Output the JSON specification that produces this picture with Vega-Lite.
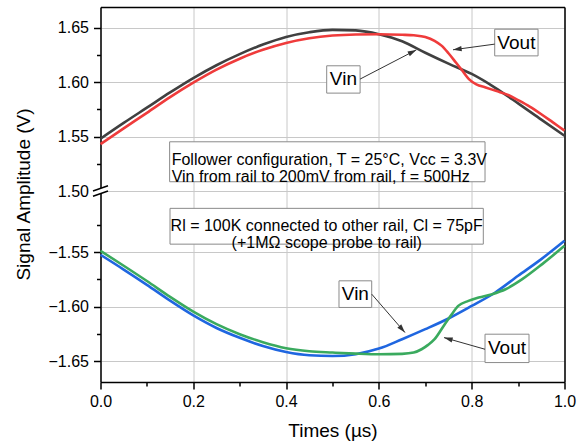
{
  "$schema": "https://vega.github.io/schema/vega-lite/v6.json",
  "padding": {"left": 13.5, "top": 7, "right": 5, "bottom": 5},
  "bounds": "flush",
  "spacing": 0,
  "resolve": {"scale": {"color": "independent"}},
  "config": {
    "font": "Liberation Sans",
    "view": {"stroke": null},
    "axis": {
      "labelFont": "Liberation Sans", "titleFont": "Liberation Sans",
      "labelFontSize": 16, "titleFontSize": 19, "titleFontWeight": "normal",
      "labelColor": "black", "titleColor": "black",
      "domainColor": "black", "tickColor": "black",
      "domainWidth": 1.5, "tickWidth": 1.5,
      "gridColor": "#c8c8c8", "gridWidth": 1, "labelFlush": false
    }
  },
  "datasets": {
    "top": [
      {"t": 0, "s": "Vin", "v": 1.548}, {"t": 0.05, "s": "Vin", "v": 1.5625}, {"t": 0.1, "s": "Vin", "v": 1.5765},
      {"t": 0.15, "s": "Vin", "v": 1.5905}, {"t": 0.2, "s": "Vin", "v": 1.6037}, {"t": 0.25, "s": "Vin", "v": 1.6155},
      {"t": 0.3, "s": "Vin", "v": 1.6257}, {"t": 0.35, "s": "Vin", "v": 1.6345}, {"t": 0.4, "s": "Vin", "v": 1.6415},
      {"t": 0.45, "s": "Vin", "v": 1.6458}, {"t": 0.5, "s": "Vin", "v": 1.648}, {"t": 0.55, "s": "Vin", "v": 1.6475},
      {"t": 0.6, "s": "Vin", "v": 1.644}, {"t": 0.65, "s": "Vin", "v": 1.6375}, {"t": 0.7, "s": "Vin", "v": 1.627},
      {"t": 0.75, "s": "Vin", "v": 1.617}, {"t": 0.8, "s": "Vin", "v": 1.6075}, {"t": 0.85, "s": "Vin", "v": 1.595},
      {"t": 0.9, "s": "Vin", "v": 1.5805}, {"t": 0.95, "s": "Vin", "v": 1.5655}, {"t": 1.0, "s": "Vin", "v": 1.5507},
      {"t": 0, "s": "Vout", "v": 1.5431}, {"t": 0.05, "s": "Vout", "v": 1.5575}, {"t": 0.1, "s": "Vout", "v": 1.5718},
      {"t": 0.15, "s": "Vout", "v": 1.5862}, {"t": 0.2, "s": "Vout", "v": 1.5995}, {"t": 0.25, "s": "Vout", "v": 1.6115},
      {"t": 0.3, "s": "Vout", "v": 1.6215}, {"t": 0.35, "s": "Vout", "v": 1.6297}, {"t": 0.4, "s": "Vout", "v": 1.636},
      {"t": 0.45, "s": "Vout", "v": 1.6403}, {"t": 0.5, "s": "Vout", "v": 1.6428}, {"t": 0.55, "s": "Vout", "v": 1.6438},
      {"t": 0.6, "s": "Vout", "v": 1.644}, {"t": 0.65, "s": "Vout", "v": 1.6435}, {"t": 0.675, "s": "Vout", "v": 1.643},
      {"t": 0.7, "s": "Vout", "v": 1.6415}, {"t": 0.72, "s": "Vout", "v": 1.638}, {"t": 0.735, "s": "Vout", "v": 1.6335},
      {"t": 0.75, "s": "Vout", "v": 1.6265}, {"t": 0.766, "s": "Vout", "v": 1.618}, {"t": 0.78, "s": "Vout", "v": 1.6104},
      {"t": 0.794, "s": "Vout", "v": 1.6028}, {"t": 0.81, "s": "Vout", "v": 1.598}, {"t": 0.83, "s": "Vout", "v": 1.5951},
      {"t": 0.852, "s": "Vout", "v": 1.592}, {"t": 0.88, "s": "Vout", "v": 1.588}, {"t": 0.9, "s": "Vout", "v": 1.5835},
      {"t": 0.925, "s": "Vout", "v": 1.5775}, {"t": 0.95, "s": "Vout", "v": 1.5705}, {"t": 0.975, "s": "Vout", "v": 1.563},
      {"t": 1.0, "s": "Vout", "v": 1.5555}
    ],
    "bot": [
      {"t": 0, "s": "Vin", "v": -1.5525}, {"t": 0.05, "s": "Vin", "v": -1.566}, {"t": 0.1, "s": "Vin", "v": -1.58},
      {"t": 0.15, "s": "Vin", "v": -1.5945}, {"t": 0.2, "s": "Vin", "v": -1.608}, {"t": 0.25, "s": "Vin", "v": -1.6195},
      {"t": 0.3, "s": "Vin", "v": -1.6285}, {"t": 0.35, "s": "Vin", "v": -1.636}, {"t": 0.4, "s": "Vin", "v": -1.6415},
      {"t": 0.45, "s": "Vin", "v": -1.6445}, {"t": 0.5, "s": "Vin", "v": -1.6452}, {"t": 0.55, "s": "Vin", "v": -1.6435},
      {"t": 0.6, "s": "Vin", "v": -1.6384}, {"t": 0.65, "s": "Vin", "v": -1.6298}, {"t": 0.7, "s": "Vin", "v": -1.6206},
      {"t": 0.75, "s": "Vin", "v": -1.6108}, {"t": 0.8, "s": "Vin", "v": -1.5993}, {"t": 0.85, "s": "Vin", "v": -1.5872},
      {"t": 0.9, "s": "Vin", "v": -1.5717}, {"t": 0.95, "s": "Vin", "v": -1.5564}, {"t": 1.0, "s": "Vin", "v": -1.5396},
      {"t": 0, "s": "Vout", "v": -1.5488}, {"t": 0.05, "s": "Vout", "v": -1.5625}, {"t": 0.1, "s": "Vout", "v": -1.5765},
      {"t": 0.15, "s": "Vout", "v": -1.591}, {"t": 0.2, "s": "Vout", "v": -1.6045}, {"t": 0.25, "s": "Vout", "v": -1.616},
      {"t": 0.3, "s": "Vout", "v": -1.6252}, {"t": 0.35, "s": "Vout", "v": -1.6325}, {"t": 0.4, "s": "Vout", "v": -1.638},
      {"t": 0.45, "s": "Vout", "v": -1.6408}, {"t": 0.5, "s": "Vout", "v": -1.642}, {"t": 0.55, "s": "Vout", "v": -1.643},
      {"t": 0.6, "s": "Vout", "v": -1.6436}, {"t": 0.65, "s": "Vout", "v": -1.6432}, {"t": 0.675, "s": "Vout", "v": -1.642},
      {"t": 0.692, "s": "Vout", "v": -1.639}, {"t": 0.706, "s": "Vout", "v": -1.635}, {"t": 0.72, "s": "Vout", "v": -1.6298},
      {"t": 0.742, "s": "Vout", "v": -1.616}, {"t": 0.757, "s": "Vout", "v": -1.6069}, {"t": 0.771, "s": "Vout", "v": -1.5993},
      {"t": 0.793, "s": "Vout", "v": -1.5947}, {"t": 0.815, "s": "Vout", "v": -1.5916}, {"t": 0.844, "s": "Vout", "v": -1.5885},
      {"t": 0.873, "s": "Vout", "v": -1.584}, {"t": 0.909, "s": "Vout", "v": -1.5748}, {"t": 0.952, "s": "Vout", "v": -1.561},
      {"t": 1.0, "s": "Vout", "v": -1.5442}
    ],
    "topBoxes": [
      {"x1": 0.8496, "x2": 0.943, "y1": 1.6241, "y2": 1.6486},
      {"x1": 0.4875, "x2": 0.5595, "y1": 1.5899, "y2": 1.615},
      {"x1": 0.149, "x2": 0.8287, "y1": 1.5085, "y2": 1.5452}
    ],
    "botBoxes": [
      {"x1": 0.514, "x2": 0.5845, "y1": -1.6007, "y2": -1.5763},
      {"x1": 0.8287, "x2": 0.9235, "y1": -1.6512, "y2": -1.6252},
      {"x1": 0.1498, "x2": 0.825, "y1": -1.5427, "y2": -1.5099}
    ],
    "topLabels": [
      {"x": 0.8963, "y": 1.6363, "text": "Vout"},
      {"x": 0.5235, "y": 1.6025, "text": "Vin"}
    ],
    "botLabels": [
      {"x": 0.5493, "y": -1.5885, "text": "Vin"},
      {"x": 0.8761, "y": -1.6382, "text": "Vout"}
    ],
    "topInfo": [
      {"x": 0.1534, "y": 1.5285, "text": "Follower configuration, T = 25°C, Vcc = 3.3V\nVin from rail to 200mV from rail, f = 500Hz"}
    ],
    "botInfo": [
      {"x": 0.4875, "y": -1.5259, "text": "Rl = 100K connected to other rail, Cl = 75pF\n(+1MΩ scope probe to rail)"}
    ],
    "topArrows": [
      {"x1": 0.8496, "y1": 1.6349, "x2": 0.7597, "y2": 1.6297, "a": 172},
      {"x1": 0.5595, "y1": 1.6028, "x2": 0.6806, "y2": 1.6296, "a": 332.5}
    ],
    "botArrows": [
      {"x1": 0.5845, "y1": -1.5885, "x2": 0.6562, "y2": -1.6237, "a": 49},
      {"x1": 0.8287, "y1": -1.639, "x2": 0.7403, "y2": -1.6283, "a": 196}
    ],
    "brk": [{"t": 0, "v": -1.494}]
  },
  "vconcat": [
    {
      "width": 464,
      "height": 184,
      "layer": [
        {
          "data": {"name": "top"},
          "mark": {"type": "line", "strokeWidth": 2.6, "interpolate": "monotone"},
          "encoding": {
            "x": {"field": "t", "type": "quantitative", "scale": {"domain": [0, 1], "nice": false},
              "axis": {"orient": "top", "values": [0, 0.2, 0.4, 0.6, 0.8, 1], "labels": false, "ticks": false, "grid": true, "domain": true, "title": null}},
            "y": {"field": "v", "type": "quantitative", "scale": {"domain": [1.5, 1.669], "nice": false, "zero": false},
              "axis": {"orient": "left", "values": [1.5, 1.525, 1.55, 1.575, 1.6, 1.625, 1.65],
                "labelExpr": "round(datum.value*40)%2!=0 ? '' : format(datum.value, '.2f')",
                "tickSize": {"condition": {"test": "round(datum.value*40)%2!=0", "value": 4}, "value": 7},
                "gridOpacity": {"condition": {"test": "round(datum.value*40)%2!=0", "value": 0}, "value": 1},
                "grid": true, "labelPadding": 5, "title": null}},
            "color": {"field": "s", "type": "nominal", "scale": {"domain": ["Vin", "Vout"], "range": ["#404040", "#ef3b3b"]}, "legend": null}
          }
        },
        {
          "data": {"name": "topBoxes"},
          "mark": {"type": "rect", "fill": "white", "stroke": "#8a8a8a", "strokeWidth": 1},
          "encoding": {
            "x": {"field": "x1", "type": "quantitative", "scale": {"domain": [0, 1], "nice": false}},
            "x2": {"field": "x2"},
            "y": {"field": "y1", "type": "quantitative", "scale": {"domain": [1.5, 1.669], "nice": false, "zero": false},
              "axis": {"orient": "right", "labels": false, "ticks": false, "grid": false, "domain": true, "title": null}},
            "y2": {"field": "y2"}
          }
        },
        {
          "data": {"name": "topArrows"},
          "mark": {"type": "rule", "color": "#333333", "strokeWidth": 1},
          "encoding": {
            "x": {"field": "x1", "type": "quantitative", "scale": {"domain": [0, 1], "nice": false}},
            "x2": {"field": "x2"},
            "y": {"field": "y1", "type": "quantitative", "scale": {"domain": [1.5, 1.669], "nice": false, "zero": false}, "axis": null},
            "y2": {"field": "y2"}
          }
        },
        {
          "data": {"name": "topArrows"},
          "mark": {"type": "point", "shape": "M0,0L-1,-0.3L-1,0.3Z", "filled": true, "color": "#333333", "opacity": 1, "size": 300},
          "encoding": {
            "x": {"field": "x2", "type": "quantitative", "scale": {"domain": [0, 1], "nice": false}},
            "y": {"field": "y2", "type": "quantitative", "scale": {"domain": [1.5, 1.669], "nice": false, "zero": false}, "axis": null},
            "angle": {"field": "a", "type": "quantitative", "scale": null}
          }
        },
        {
          "data": {"name": "topLabels"},
          "mark": {"type": "text", "fontSize": 19, "align": "center", "baseline": "middle", "color": "black"},
          "encoding": {
            "x": {"field": "x", "type": "quantitative", "scale": {"domain": [0, 1], "nice": false}},
            "y": {"field": "y", "type": "quantitative", "scale": {"domain": [1.5, 1.669], "nice": false, "zero": false}, "axis": null},
            "text": {"field": "text"}
          }
        },
        {
          "data": {"name": "topInfo"},
          "mark": {"type": "text", "fontSize": 16, "align": "left", "baseline": "middle", "lineBreak": "\n", "lineHeight": 17.5, "color": "black"},
          "encoding": {
            "x": {"field": "x", "type": "quantitative", "scale": {"domain": [0, 1], "nice": false}},
            "y": {"field": "y", "type": "quantitative", "scale": {"domain": [1.5, 1.669], "nice": false, "zero": false}, "axis": null},
            "text": {"field": "text"}
          }
        }
      ],
      "resolve": {"axis": {"y": "independent"}}
    },
    {
      "width": 464,
      "height": 191,
      "layer": [
        {
          "data": {"name": "bot"},
          "mark": {"type": "line", "strokeWidth": 2.6, "interpolate": "monotone"},
          "encoding": {
            "x": {"field": "t", "type": "quantitative", "scale": {"domain": [0, 1], "nice": false},
              "axis": {"orient": "bottom", "values": [0, 0.1, 0.2, 0.3, 0.4, 0.5, 0.6, 0.7, 0.8, 0.9, 1],
                "labelExpr": "round(datum.value*10)%2!=0 ? '' : format(datum.value, '.1f')",
                "tickSize": {"condition": {"test": "round(datum.value*10)%2!=0", "value": 4}, "value": 7},
                "gridOpacity": {"condition": {"test": "round(datum.value*10)%2!=0", "value": 0}, "value": 1},
                "grid": true, "labelFlush": false, "labelPadding": 4, "titlePadding": 12, "title": "Times (µs)"}},
            "y": {"field": "v", "type": "quantitative", "scale": {"domain": [-1.669, -1.494], "nice": false, "zero": false},
              "axis": {"orient": "left", "values": [-1.65, -1.625, -1.6, -1.575, -1.55, -1.525],
                "labelExpr": "round(datum.value*40)%2!=0 ? '' : format(datum.value, '.2f')",
                "tickSize": {"condition": {"test": "round(datum.value*40)%2!=0", "value": 4}, "value": 7},
                "gridOpacity": {"condition": {"test": "round(datum.value*40)%2!=0", "value": 0}, "value": 1},
                "grid": true, "labelPadding": 5, "titlePadding": 15, "titleY": 3, "title": "Signal Amplitude (V)"}},
            "color": {"field": "s", "type": "nominal", "scale": {"domain": ["Vin", "Vout"], "range": ["#1f66e0", "#3aaa5e"]}, "legend": null}
          }
        },
        {
          "data": {"name": "botBoxes"},
          "mark": {"type": "rect", "fill": "white", "stroke": "#8a8a8a", "strokeWidth": 1},
          "encoding": {
            "x": {"field": "x1", "type": "quantitative", "scale": {"domain": [0, 1], "nice": false}},
            "x2": {"field": "x2"},
            "y": {"field": "y1", "type": "quantitative", "scale": {"domain": [-1.669, -1.494], "nice": false, "zero": false},
              "axis": {"orient": "right", "labels": false, "ticks": false, "grid": false, "domain": true, "title": null}},
            "y2": {"field": "y2"}
          }
        },
        {
          "data": {"name": "botArrows"},
          "mark": {"type": "rule", "color": "#333333", "strokeWidth": 1},
          "encoding": {
            "x": {"field": "x1", "type": "quantitative", "scale": {"domain": [0, 1], "nice": false}},
            "x2": {"field": "x2"},
            "y": {"field": "y1", "type": "quantitative", "scale": {"domain": [-1.669, -1.494], "nice": false, "zero": false}, "axis": null},
            "y2": {"field": "y2"}
          }
        },
        {
          "data": {"name": "botArrows"},
          "mark": {"type": "point", "shape": "M0,0L-1,-0.3L-1,0.3Z", "filled": true, "color": "#333333", "opacity": 1, "size": 300},
          "encoding": {
            "x": {"field": "x2", "type": "quantitative", "scale": {"domain": [0, 1], "nice": false}},
            "y": {"field": "y2", "type": "quantitative", "scale": {"domain": [-1.669, -1.494], "nice": false, "zero": false}, "axis": null},
            "angle": {"field": "a", "type": "quantitative", "scale": null}
          }
        },
        {
          "data": {"name": "botLabels"},
          "mark": {"type": "text", "fontSize": 19, "align": "center", "baseline": "middle", "color": "black"},
          "encoding": {
            "x": {"field": "x", "type": "quantitative", "scale": {"domain": [0, 1], "nice": false}},
            "y": {"field": "y", "type": "quantitative", "scale": {"domain": [-1.669, -1.494], "nice": false, "zero": false}, "axis": null},
            "text": {"field": "text"}
          }
        },
        {
          "data": {"name": "botInfo"},
          "mark": {"type": "text", "fontSize": 16, "align": "center", "baseline": "middle", "lineBreak": "\n", "lineHeight": 17.5, "color": "black"},
          "encoding": {
            "x": {"field": "x", "type": "quantitative", "scale": {"domain": [0, 1], "nice": false}},
            "y": {"field": "y", "type": "quantitative", "scale": {"domain": [-1.669, -1.494], "nice": false, "zero": false}, "axis": null},
            "text": {"field": "text"}
          }
        },
        {
          "data": {"name": "brk"},
          "mark": {"type": "point", "shape": "M-1,0L1,-0.7L1,0L-1,0.7Z", "filled": true, "color": "white", "strokeWidth": 0, "opacity": 1, "size": 225},
          "encoding": {
            "x": {"field": "t", "type": "quantitative", "scale": {"domain": [0, 1], "nice": false}},
            "y": {"field": "v", "type": "quantitative", "scale": {"domain": [-1.669, -1.494], "nice": false, "zero": false}, "axis": null}
          }
        },
        {
          "data": {"name": "brk"},
          "mark": {"type": "point", "shape": "M-1,0L1,-0.7M-1,0.7L1,0", "filled": false, "color": "black", "strokeWidth": 1.5, "opacity": 1, "size": 225},
          "encoding": {
            "x": {"field": "t", "type": "quantitative", "scale": {"domain": [0, 1], "nice": false}},
            "y": {"field": "v", "type": "quantitative", "scale": {"domain": [-1.669, -1.494], "nice": false, "zero": false}, "axis": null}
          }
        }
      ],
      "resolve": {"axis": {"y": "independent"}}
    }
  ]
}
